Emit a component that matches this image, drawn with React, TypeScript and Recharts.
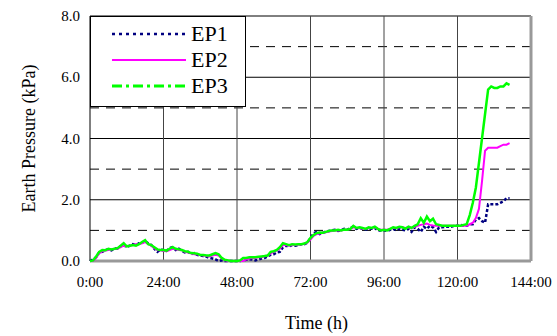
import React from "react";
import {
  LineChart,
  Line,
  XAxis,
  YAxis,
  ReferenceLine,
  ReferenceArea,
  Label,
} from "recharts";

// hourly readings, index = hour
const ep1 = [
  0.0, 0.05, 0.12, 0.28, 0.3, 0.36, 0.38, 0.35, 0.42, 0.4, 0.48, 0.52, 0.45, 0.5, 0.55, 0.52, 0.58, 0.6, 0.65, 0.58,
  0.52, 0.4, 0.3, 0.38, 0.35, 0.33, 0.42, 0.45, 0.36, 0.4, 0.33, 0.28, 0.3, 0.22, 0.26, 0.2, 0.18, 0.16, 0.14, 0.1,
  0.08, 0.05, 0.0, 0.02, 0.0, 0.0, 0.0, 0.0, 0.0, 0.0, 0.02, 0.04, 0.06, 0.05, 0.02, 0.05, 0.08, 0.1, 0.15, 0.2,
  0.22, 0.28, 0.3, 0.45, 0.5, 0.48, 0.52, 0.5, 0.52, 0.55, 0.55, 0.6, 0.75, 0.9, 0.95, 0.88, 0.92, 0.96, 0.98, 1.0,
  1.02, 0.98, 1.0, 1.05, 1.02, 1.08, 1.12, 1.05, 1.08, 1.05, 1.02, 1.06, 1.05, 1.08, 1.0, 1.0, 1.0, 0.98, 1.02, 1.05,
  1.0, 1.05, 1.02, 1.0, 1.05, 0.95, 1.1, 1.05, 0.95, 1.12, 1.05, 1.15, 1.1, 0.95, 1.1, 1.1, 1.12, 1.12, 1.12, 1.15,
  1.15, 1.18, 1.15, 1.15, 1.2, 1.2, 1.35, 1.4, 1.3, 1.25, 1.85, 1.85, 1.85, 1.85, 1.9, 1.95, 2.05, 2.05,
];

const ep2 = [
  0.0, 0.0, 0.1, 0.25, 0.32, 0.34, 0.36, 0.38, 0.4, 0.4, 0.45, 0.5, 0.48, 0.5, 0.52, 0.55, 0.55, 0.58, 0.62, 0.55,
  0.5, 0.42, 0.36, 0.35, 0.33, 0.32, 0.36, 0.4, 0.38, 0.36, 0.35, 0.3, 0.28, 0.25, 0.22, 0.22, 0.2, 0.18, 0.16, 0.15,
  0.18, 0.2, 0.18, 0.08, 0.03, 0.0, 0.0, 0.0, 0.0, 0.0, 0.0, 0.05, 0.08, 0.1, 0.1, 0.12, 0.12, 0.15, 0.18, 0.25,
  0.3, 0.35, 0.4, 0.52, 0.52, 0.5, 0.52, 0.52, 0.53, 0.55, 0.56, 0.6, 0.7, 0.82, 0.88, 0.9, 0.92, 0.94, 0.96, 0.98,
  1.0, 1.0, 1.0, 1.02, 1.02, 1.05, 1.1, 1.08, 1.08, 1.06, 1.05, 1.08, 1.08, 1.1, 1.05, 1.02, 1.02, 1.02, 1.05, 1.08,
  1.08, 1.1, 1.1, 1.08, 1.1, 1.08, 1.12, 1.15, 1.18, 1.2, 1.22, 1.18, 1.16, 1.15, 1.15, 1.15, 1.15, 1.15, 1.15, 1.15,
  1.15, 1.15, 1.15, 1.15, 1.2, 1.25, 1.4, 1.7, 2.6, 3.6, 3.7, 3.7, 3.7, 3.7, 3.75, 3.8, 3.8, 3.85,
];

const ep3 = [
  0.0, 0.02, 0.15, 0.3, 0.36, 0.35, 0.4, 0.38, 0.4, 0.42, 0.5, 0.58, 0.48, 0.5, 0.52, 0.5, 0.55, 0.62, 0.68, 0.55,
  0.52, 0.45, 0.38, 0.36, 0.36, 0.34, 0.4, 0.45, 0.4, 0.38, 0.36, 0.32, 0.3, 0.26, 0.25, 0.24, 0.2, 0.2, 0.18, 0.18,
  0.22, 0.26, 0.22, 0.1, 0.04, 0.02, 0.0, 0.0, 0.0, 0.02, 0.1, 0.1, 0.12, 0.12, 0.12, 0.14, 0.15, 0.16, 0.18, 0.3,
  0.32, 0.36, 0.45, 0.58, 0.55, 0.52, 0.55, 0.54, 0.55, 0.55, 0.57, 0.62, 0.76, 0.85, 0.91, 0.93, 0.92, 0.95, 0.98, 1.0,
  1.0, 1.02, 1.0, 1.03, 1.02, 1.05, 1.15, 1.08, 1.1, 1.08, 1.05, 1.1, 1.08, 1.12, 1.05, 1.0, 1.02, 1.0, 1.05, 1.1,
  1.08, 1.12, 1.1, 1.05, 1.12, 1.08, 1.15, 1.2, 1.4, 1.25, 1.45, 1.3, 1.38, 1.2, 1.18, 1.15, 1.15, 1.15, 1.15, 1.15,
  1.15, 1.15, 1.18, 1.2, 1.5, 1.9, 2.4, 3.2, 4.0, 4.8, 5.6, 5.7, 5.65, 5.65, 5.7, 5.7, 5.8, 5.75,
];

const xTicks = [0, 24, 48, 72, 96, 120, 144];
const yTicks = [0, 2, 4, 6, 8];
const solidY = [2, 4, 6];
const dashedY = [1, 3, 5, 7];
const seriesNames = ["EP1", "EP2", "EP3"];

const data = ep3.map((v, i) => ({ t: i, ep1: ep1[i], ep2: ep2[i], ep3: v }));

const FONT = "Liberation Serif";
const txt = { fontFamily: FONT, fill: "#000" };

const legendStyles = [
  { color: "#000080", dash: "3 4", width: 2.5 },
  { color: "#ff00ff", dash: undefined, width: 2 },
  { color: "#00ff00", dash: "10 4 3 4", width: 3 },
];

function XTick({ x, y, payload }: any) {
  return (
    <text x={x} y={y} dy={8} textAnchor="middle" style={{ ...txt, fontSize: 15 }}>
      {`${payload.value}:00`}
    </text>
  );
}

function YTick({ x, y, payload }: any) {
  return (
    <text x={x} y={y} dy={5} textAnchor="end" style={{ ...txt, fontSize: 15 }}>
      {Number(payload.value).toFixed(1)}
    </text>
  );
}

function XTitle({ viewBox }: any) {
  const { x, width } = viewBox;
  return (
    <text x={x + width / 2 + 6} y={329} textAnchor="middle" style={{ ...txt, fontSize: 18 }}>
      Time (h)
    </text>
  );
}

function YTitle({ viewBox }: any) {
  const { y, height } = viewBox;
  const cy = y + height / 2;
  return (
    <text x={35} y={cy} transform={`rotate(-90 35 ${cy})`} textAnchor="middle" style={{ ...txt, fontSize: 18 }}>
      Earth Pressure (kPa)
    </text>
  );
}

function LegendBox() {
  return (
    <svg width={156} height={91} style={{ display: "block" }}>
      <rect x={0.5} y={0.5} width={155} height={90} fill="#fff" stroke="#000" strokeWidth={1} />
      {seriesNames.map((name, i) => (
        <g key={name}>
          <line
            x1={22}
            x2={96}
            y1={18 + i * 26}
            y2={18 + i * 26}
            stroke={legendStyles[i].color}
            strokeWidth={legendStyles[i].width}
            strokeDasharray={legendStyles[i].dash}
          />
          <text x={101} y={25 + i * 26} style={{ ...txt, fontSize: 22 }}>
            {name}
          </text>
        </g>
      ))}
    </svg>
  );
}

export default function App() {
  return (
    <div
      style={{ position: "absolute", left: 0, top: 0, width: 557, height: 336, background: "#fff", fontFamily: FONT }}
    >
      <LineChart width={557} height={336} data={data} margin={{ top: 16, right: 26, left: 0, bottom: 45 }}>
        <XAxis
          dataKey="t"
          type="number"
          domain={[0, 144]}
          ticks={xTicks}
          axisLine={false}
          tickLine={false}
          tickMargin={12}
          height={30}
          tick={<XTick />}
        >
          <Label content={<XTitle />} />
        </XAxis>
        <YAxis
          type="number"
          domain={[0, 8]}
          ticks={yTicks}
          axisLine={false}
          tickLine={false}
          tickMargin={4}
          width={90}
          tick={<YTick />}
        >
          <Label content={<YTitle />} />
        </YAxis>
        {dashedY.map((y) => (
          <ReferenceLine key={`d${y}`} y={y} stroke="#000" strokeDasharray="9 7" strokeWidth={1} />
        ))}
        {solidY.map((y) => (
          <ReferenceLine key={`s${y}`} y={y} stroke="#000" strokeWidth={1} />
        ))}
        {xTicks.slice(1, -1).map((x) => (
          <ReferenceLine key={`v${x}`} x={x} stroke="#444" strokeWidth={1} />
        ))}
        <ReferenceLine x={144} stroke="#999" strokeWidth={3} />
        <ReferenceLine y={0} stroke="#999" strokeWidth={3} />
        <ReferenceArea x1={0} x2={144} y1={0} y2={8} fill="none" stroke="#000" strokeWidth={1} ifOverflow="visible" />
        <Line
          dataKey="ep1"
          stroke="#000080"
          strokeWidth={2.5}
          strokeDasharray="3 2"
          dot={false}
          isAnimationActive={false}
        />
        <Line dataKey="ep2" stroke="#ff00ff" strokeWidth={2} dot={false} isAnimationActive={false} />
        <Line dataKey="ep3" stroke="#00ff00" strokeWidth={2.5} dot={false} isAnimationActive={false} />
      </LineChart>
      <div style={{ position: "absolute", left: 90, top: 16 }}>
        <LegendBox />
      </div>
    </div>
  );
}
